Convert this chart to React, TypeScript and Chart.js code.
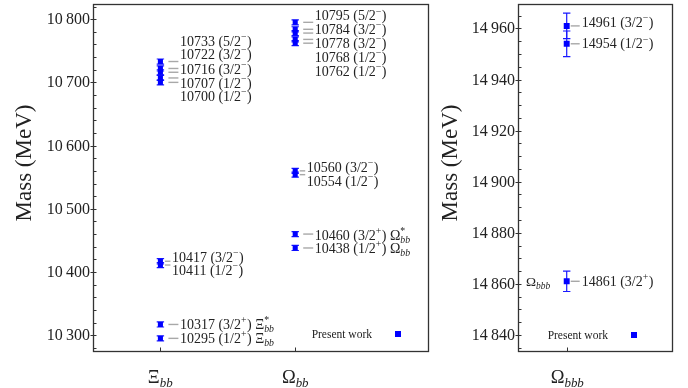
import React, { useEffect, useRef } from 'react';
import { Chart, registerables } from 'chart.js';

Chart.register(...registerables);

// ---------------- DATA ----------------
const leftCategories = ['Ξ_{bb}', 'Ω_{bb}'];
const rightCategories = ['Ω_{bbb}'];

const xiBBMasses = [10733, 10722, 10716, 10707, 10700, 10417, 10411, 10317, 10295];
const xiBBErrors = [4, 4, 4, 4, 4, 4, 4, 4, 4];
const xiBBSpinParity = ['5/2-', '3/2-', '3/2-', '1/2-', '1/2-', '3/2-', '1/2-', '3/2+', '1/2+'];
const xiBBTags = ['', '', '', '', '', '', '', 'Ξ^*_{bb}', 'Ξ_{bb}'];

const omegaBBMasses = [10795, 10784, 10778, 10768, 10762, 10560, 10554, 10460, 10438];
const omegaBBErrors = [4, 4, 4, 4, 4, 4, 4, 4, 4];
const omegaBBSpinParity = ['5/2-', '3/2-', '3/2-', '1/2-', '1/2-', '3/2-', '1/2-', '3/2+', '1/2+'];
const omegaBBTags = ['', '', '', '', '', '', '', 'Ω^*_{bb}', 'Ω_{bb}'];

const omegaBBBMasses = [14961, 14954, 14861];
const omegaBBBErrors = [5, 5, 4];
const omegaBBBSpinParity = ['3/2-', '1/2-', '3/2+'];
const omegaBBBTags = ['', '', 'Ω_{bbb}'];

const leftYRange = [10275, 10824];
const rightYRange = [14833.7, 14969.5];
const leftTickSteps = [100, 20];
const rightTickSteps = [20, 5];

const legendText = 'Present work';
const axisTitle = 'Mass (MeV)';

// ---------------- LAYOUT (annotation placement, px) ----------------
const xiLabelDy = [-20.6, -14, -3.3, 5, 14, -3.6, 5.1, 0, 0];
const xiDash = ['L', 'L', 'L', 'L', 'L', 'S', 'S', 'L', 'L'];
const omegaLabelDy = [-6.5, 0, 10.3, 18, 27.7, -3.3, 6.4, 1, 0];
const omegaDash = ['L', 'L', 'L', 'L', 'L', 'S', 'S', 'L', 'L'];
const omegaBBBLabelDy = [-3.4, 0, 0];
const omegaBBBDash = ['R', 'R', 'R'];
const dashStyles: Record<string, number[]> = {
  L: [8, 18, 19.5],
  S: [4.5, 10, 11.5],
  R: [4, 13, 15],
};

const BLUE = '#0000ff';
const BAR = '#1a1aff';
const TEXT = '#222';
const FONT = '"Liberation Serif", "DejaVu Serif", serif';

// ---------------- RICH TEXT ----------------
type Seg = { t: string; kind: 'n' | 'sup' | 'sub' };
function parseRich(s: string): Seg[] {
  const out: Seg[] = [];
  let i = 0;
  let buf = '';
  while (i < s.length) {
    const c = s[i];
    if (c === '^' || c === '_') {
      if (buf) { out.push({ t: buf, kind: 'n' }); buf = ''; }
      let content = '';
      if (s[i + 1] === '{') {
        const j = s.indexOf('}', i + 2);
        content = s.slice(i + 2, j);
        i = j + 1;
      } else {
        content = s[i + 1];
        i += 2;
      }
      out.push({ t: content, kind: c === '^' ? 'sup' : 'sub' });
    } else {
      buf += c;
      i++;
    }
  }
  if (buf) out.push({ t: buf, kind: 'n' });
  return out;
}

function segFont(kind: string, size: number, t: string) {
  if (kind === 'n') return `${size}px ${FONT}`;
  const small = size * 0.7;
  const italic = /^[a-z]+$/.test(t) ? 'italic ' : '';
  return `${italic}${small}px ${FONT}`;
}

function layoutRich(ctx: CanvasRenderingContext2D, segs: Seg[], size: number) {
  const items: { seg: Seg; x: number }[] = [];
  let x = 0;
  let i = 0;
  while (i < segs.length) {
    const s = segs[i];
    ctx.font = segFont(s.kind, size, s.t);
    const w = ctx.measureText(s.t).width;
    if (s.kind !== 'n' && i + 1 < segs.length && segs[i + 1].kind !== 'n' && segs[i + 1].kind !== s.kind) {
      const s2 = segs[i + 1];
      ctx.font = segFont(s2.kind, size, s2.t);
      const w2 = ctx.measureText(s2.t).width;
      items.push({ seg: s, x });
      items.push({ seg: s2, x });
      x += Math.max(w, w2) + 0.5;
      i += 2;
    } else {
      items.push({ seg: s, x });
      x += w + (s.kind === 'n' ? 0 : 0.5);
      i++;
    }
  }
  return { items, width: x };
}

function drawRich(ctx: CanvasRenderingContext2D, text: string, x: number, y: number, size: number, align: 'left' | 'right' | 'center') {
  const segs = parseRich(text);
  const { items, width } = layoutRich(ctx, segs, size);
  let x0 = x;
  if (align === 'right') x0 = x - width;
  if (align === 'center') x0 = x - width / 2;
  const base = y + size * 0.33;
  ctx.textAlign = 'left';
  ctx.textBaseline = 'alphabetic';
  ctx.fillStyle = TEXT;
  for (const it of items) {
    ctx.font = segFont(it.seg.kind, size, it.seg.t);
    let by = base;
    if (it.seg.kind === 'sup') by = base - size * 0.42;
    if (it.seg.kind === 'sub') by = base + size * 0.22;
    ctx.fillText(it.seg.t, x0 + it.x, by);
  }
}

function massLabel(m: number, jp: string) {
  const frac = jp.slice(0, -1);
  const sign = jp.slice(-1) === '-' ? '−' : '+';
  return `${m} (${frac}^{${sign}})`;
}

function fmtTick(v: number) {
  return `${Math.floor(v / 1000)}\u2009${String(v % 1000).padStart(3, '0')}`;
}

// ---------------- PANEL ----------------
type Group = {
  cat: number;
  masses: number[];
  errs: number[];
  jp: string[];
  tags: string[];
  dy: number[];
  dash: string[];
  tagLeft?: boolean;
};

type PanelCfg = {
  groups: Group[];
  categories: string[];
  yRange: number[];
  steps: number[];
  xRange: number[];
  padding: { left: number; right: number; top: number; bottom: number };
  pointRadius: number;
  titleX: number;
  legendDx: number;
  legendDy: number;
};

function makeDecor(cfg: PanelCfg) {
  return {
    id: 'decor',
    beforeDatasetsDraw(chart: any) {
      const ctx: CanvasRenderingContext2D = chart.ctx;
      const xs = chart.scales.x;
      const ys = chart.scales.y;
      ctx.save();
      ctx.strokeStyle = BAR;
      ctx.lineWidth = 1.2;
      cfg.groups.forEach((g) => {
        const px = xs.getPixelForValue(g.cat);
        g.masses.forEach((m, i) => {
          const top = ys.getPixelForValue(m + g.errs[i]);
          const bot = ys.getPixelForValue(m - g.errs[i]);
          ctx.beginPath();
          ctx.moveTo(px, top);
          ctx.lineTo(px, bot);
          ctx.moveTo(px - 3.7, top);
          ctx.lineTo(px + 3.7, top);
          ctx.moveTo(px - 3.7, bot);
          ctx.lineTo(px + 3.7, bot);
          ctx.stroke();
        });
      });
      ctx.restore();
    },
    afterDraw(chart: any) {
      const ctx: CanvasRenderingContext2D = chart.ctx;
      const ca = chart.chartArea;
      const xs = chart.scales.x;
      const ys = chart.scales.y;
      ctx.save();
      // frame
      ctx.strokeStyle = '#333';
      ctx.lineWidth = 1.3;
      const L = Math.round(ca.left) + 0.5;
      const T = Math.round(ca.top) + 0.5;
      const R = Math.round(ca.right) + 0.5;
      const B = Math.round(ca.bottom) + 0.5;
      ctx.strokeRect(L, T, R - L, B - T);
      // y ticks
      const [major, minor] = cfg.steps;
      ctx.lineWidth = 1;
      for (let v = Math.ceil(ys.min / minor) * minor; v <= ys.max; v += minor) {
        const py = Math.round(ys.getPixelForValue(v)) + 0.5;
        const isMajor = v % major === 0;
        ctx.beginPath();
        ctx.moveTo(L - (isMajor ? 3 : 0), py);
        ctx.lineTo(L + 3, py);
        ctx.stroke();
        if (isMajor) {
          ctx.font = `16px ${FONT}`;
          ctx.fillStyle = TEXT;
          ctx.textAlign = 'right';
          ctx.textBaseline = 'middle';
          ctx.fillText(fmtTick(v), L - 3.5, py + 0.5);
        }
      }
      // x ticks & category labels
      cfg.categories.forEach((c, i) => {
        const px = Math.round(xs.getPixelForValue(i + 1)) + 0.5;
        ctx.beginPath();
        ctx.moveTo(px, B);
        ctx.lineTo(px, B - 4);
        ctx.stroke();
        drawRich(ctx, c, px, B + 25, 18.5, 'center');
      });
      // axis title
      ctx.save();
      ctx.translate(cfg.titleX, 163);
      ctx.rotate(-Math.PI / 2);
      ctx.font = `23px ${FONT}`;
      ctx.fillStyle = TEXT;
      ctx.textAlign = 'center';
      ctx.textBaseline = 'middle';
      ctx.fillText(axisTitle, 0, 0);
      ctx.restore();
      // annotations
      cfg.groups.forEach((g) => {
        const px = xs.getPixelForValue(g.cat);
        g.masses.forEach((m, i) => {
          const py = ys.getPixelForValue(m);
          const [d0, d1, tx] = dashStyles[g.dash[i]];
          ctx.strokeStyle = '#a8a8a8';
          ctx.lineWidth = 1.4;
          ctx.beginPath();
          ctx.moveTo(px + d0, py);
          ctx.lineTo(px + d1, py);
          ctx.stroke();
          let txt = massLabel(m, g.jp[i]);
          if (g.tags[i] && !g.tagLeft) txt += ' ' + g.tags[i];
          drawRich(ctx, txt, px + tx, py + g.dy[i], 14, 'left');
          if (g.tags[i] && g.tagLeft) drawRich(ctx, g.tags[i], px - 16, py, 13.5, 'right');
        });
      });
      // legend
      const lx = ca.right - cfg.legendDx;
      const ly = ca.bottom - cfg.legendDy;
      ctx.fillStyle = BLUE;
      ctx.fillRect(lx - 3, ly - 3, 6, 6);
      drawRich(ctx, legendText, lx - 26, ly, 11.5, 'right');
      ctx.restore();
    },
  };
}

function Panel({ left, width, cfg }: { left: number; width: number; cfg: PanelCfg }) {
  const ref = useRef<HTMLCanvasElement>(null);
  useEffect(() => {
    const chart = new Chart(ref.current!, {
      type: 'scatter',
      data: {
        datasets: cfg.groups.map((g) => ({
          data: g.masses.map((m) => ({ x: g.cat, y: m })),
          pointStyle: 'rect',
          pointRadius: cfg.pointRadius,
          pointHoverRadius: cfg.pointRadius,
          backgroundColor: BLUE,
          borderColor: BLUE,
          borderWidth: 0,
        })),
      },
      options: {
        responsive: false,
        animation: false,
        devicePixelRatio: 1,
        events: [],
        layout: { padding: cfg.padding },
        scales: {
          x: { type: 'linear', display: false, min: cfg.xRange[0], max: cfg.xRange[1] },
          y: { type: 'linear', display: false, min: cfg.yRange[0], max: cfg.yRange[1] },
        },
        plugins: { legend: { display: false }, tooltip: { enabled: false } },
      } as any,
      plugins: [makeDecor(cfg) as any],
    });
    return () => chart.destroy();
  }, []);
  return (
    <canvas
      ref={ref}
      width={width}
      height={388}
      style={{ position: 'absolute', left, top: 0, width, height: 388 }}
    />
  );
}

const leftCfg: PanelCfg = {
  groups: [
    { cat: 1, masses: xiBBMasses, errs: xiBBErrors, jp: xiBBSpinParity, tags: xiBBTags, dy: xiLabelDy, dash: xiDash },
    { cat: 2, masses: omegaBBMasses, errs: omegaBBErrors, jp: omegaBBSpinParity, tags: omegaBBTags, dy: omegaLabelDy, dash: omegaDash },
  ],
  categories: leftCategories,
  yRange: leftYRange,
  steps: leftTickSteps,
  xRange: [0.5, 2.985],
  padding: { left: 93, right: 12, top: 4, bottom: 37 },
  pointRadius: 3.6,
  titleX: 25,
  legendDx: 30,
  legendDy: 17,
};

const rightCfg: PanelCfg = {
  groups: [
    { cat: 1, masses: omegaBBBMasses, errs: omegaBBBErrors, jp: omegaBBBSpinParity, tags: omegaBBBTags, dy: omegaBBBLabelDy, dash: omegaBBBDash, tagLeft: true },
  ],
  categories: rightCategories,
  yRange: rightYRange,
  steps: rightTickSteps,
  xRange: [0.5, 2.081],
  padding: { left: 78, right: 16, top: 4, bottom: 37 },
  pointRadius: 4.2,
  titleX: 11,
  legendDx: 38,
  legendDy: 16,
};

export default function App() {
  return (
    <div style={{ position: 'absolute', left: 0, top: 0, width: 688, height: 388, background: '#fff' }}>
      <Panel left={0} width={440} cfg={leftCfg} />
      <Panel left={440} width={248} cfg={rightCfg} />
    </div>
  );
}
